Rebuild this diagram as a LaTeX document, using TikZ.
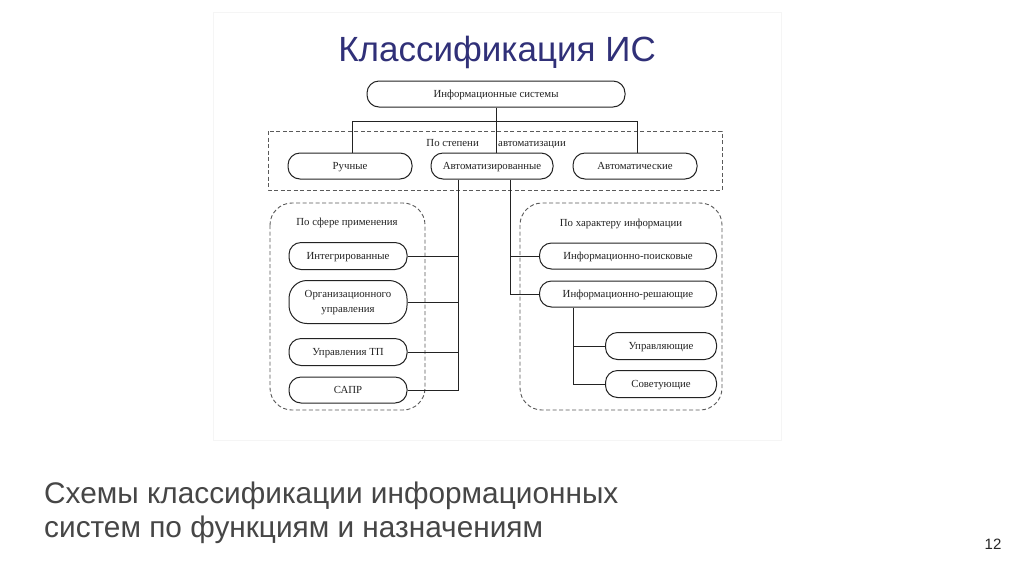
\documentclass[tikz,border=0pt]{standalone}
\usepackage{fontspec}
\setmainfont{Liberation Serif}
\newfontfamily\slidefont{Liberation Sans}
\usetikzlibrary{positioning}
\definecolor{titleblue}{RGB}{48,48,120}
\definecolor{slidegray}{RGB}{70,70,70}
\definecolor{linegray}{RGB}{35,35,35}
\tikzset{
  pill/.style={draw=linegray, line width=1pt, rounded corners=12pt, minimum height=26pt,
    inner sep=1pt, text=linegray, font=\fontsize{10.8}{15}\selectfont,
    text height=9pt, text depth=2pt},
  grp/.style={draw=linegray!75, line width=0.9pt, dashed, dash pattern=on 4pt off 2.5pt},
  conn/.style={draw=linegray, line width=1pt},
  lbl/.style={font=\fontsize{10.8}{13}\selectfont, text=linegray, inner sep=1pt},
}
\begin{document}
\begin{tikzpicture}[x=1pt,y=-1pt]
\useasboundingbox (0,0) rectangle (1024,574);
\fill[white] (0,0) rectangle (1024,574);
\draw[black!4, line width=1pt] (213,12) rectangle (781,440);

\node[font=\slidefont\fontsize{35}{38}\selectfont, text=titleblue] (title) at (497,52) {Классификация ИС};

% dashed groups
\draw[grp] (268,131) rectangle (722,190);
\draw[grp, rounded corners=22pt] (270,203) rectangle (425,410);
\draw[grp, rounded corners=22pt] (520,203) rectangle (722,410);

\node[pill, minimum width=258pt] (is) at (496,94) {Информационные системы};

\node[lbl, anchor=base east] (lab1a) at (480,146) {По степени};
\node[lbl, anchor=base west] (lab1b) at (497,146) {автоматизации};

\node[pill, minimum width=124pt] (man) at (350,166) {Ручные};
\node[pill, minimum width=122pt] (aut) at (492,166) {Автоматизированные};
\node[pill, minimum width=124pt] (auto) at (635,166) {Автоматические};

\node[lbl, anchor=base] (lab2) at (347,225) {По сфере применения};
\node[pill, minimum width=118pt, minimum height=27pt] (integ) at (348,256) {Интегрированные};
\node[pill, minimum width=118pt, minimum height=43pt, rounded corners=18pt, text height=, text depth=] (org) at (348,302)
  {\raisebox{-2.5pt}{\begin{tabular}{@{}c@{}}Организационного\\управления\end{tabular}}};
\node[pill, minimum width=118pt, minimum height=27pt] (tp) at (348,352) {Управления ТП};
\node[pill, minimum width=118pt, minimum height=26pt] (sapr) at (348,390) {САПР};

\node[lbl, anchor=base] (lab3) at (621,226) {По характеру информации};
\node[pill, minimum width=177pt] (poisk) at (628,256) {Информационно-поисковые};
\node[pill, minimum width=177pt] (resh) at (628,294) {Информационно-решающие};
\node[pill, minimum width=111pt, minimum height=27pt] (upr) at (661,346) {Управляющие};
\node[pill, minimum width=111pt, minimum height=27pt] (sov) at (661,384) {Советующие};

% connectors
\coordinate (busL) at (352,121);
\coordinate (busR) at (637,121);
\draw[conn] (is.south) -- (is.south |- aut.north);
\draw[conn] (busL) -- (busR);
\draw[conn] (busL) -- (busL |- man.north);
\draw[conn] (busR) -- (busR |- auto.north);

\coordinate (vL) at (458,180);
\coordinate (vR) at (510,180);
\draw[conn] (vL |- aut.south) -- (vL |- sapr.east) -- (sapr.east);
\draw[conn] (integ.east) -- (vL |- integ.east);
\draw[conn] (org.east) -- (vL |- org.east);
\draw[conn] (tp.east) -- (vL |- tp.east);
\draw[conn] (vR |- aut.south) -- (vR |- resh.west) -- (resh.west);
\draw[conn] (vR |- poisk.west) -- (poisk.west);

\coordinate (vS) at (573,307);
\draw[conn] (vS |- resh.south) -- (vS |- sov.west) -- (sov.west);
\draw[conn] (vS |- upr.west) -- (upr.west);

% slide caption
\node[font=\slidefont\fontsize{29.8}{34}\selectfont, text=slidegray, anchor=west, align=left, inner sep=0pt] (cap) at (44,513) {Схемы классификации информационных\\систем по функциям и назначениям};
\node[font=\slidefont\fontsize{15}{17}\selectfont, text=black!85] (pg) at (993,544) {12};
\end{tikzpicture}
\end{document}
